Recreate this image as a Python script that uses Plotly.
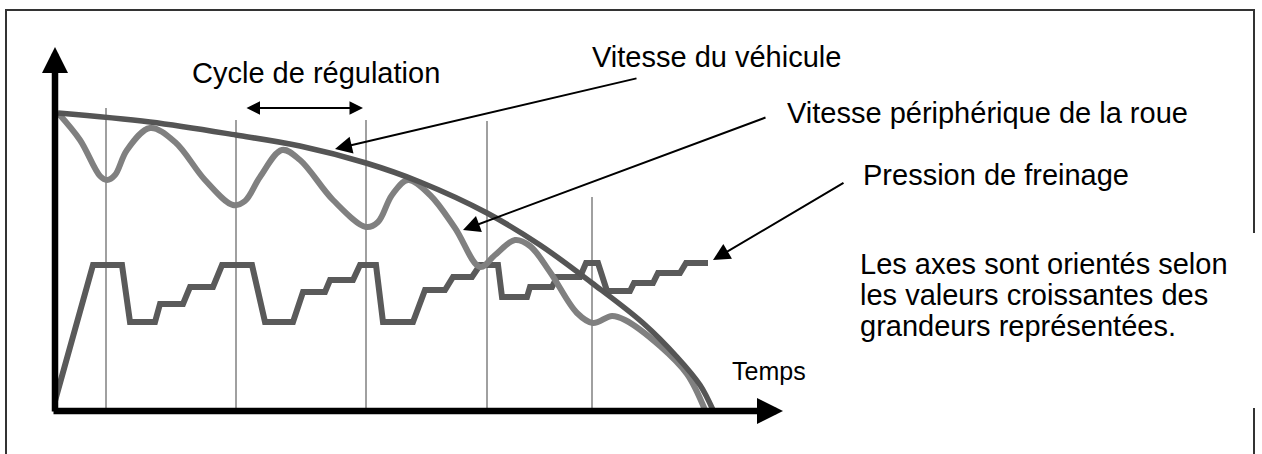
import plotly.graph_objects as go

# ---- data (chart units: time t from the origin, value v above the time axis) ----
vehicle_t = [3, 95, 181, 245, 311, 365, 432, 485, 537, 588, 622, 645, 658]
vehicle_v = [298, 289, 276, 265, 248, 229, 198, 166, 128, 88, 54, 26, 1]

wheel_t = [3, 25, 45, 52, 60, 72, 95, 120, 150, 178, 190, 205, 227, 245, 278, 311, 323, 337,
           353, 375, 400, 425, 440, 460, 475, 495, 522, 538, 557, 570, 605, 632, 650]
wheel_v = [298, 271, 235, 231, 236, 261, 283, 269, 231, 206, 210, 234, 261, 251, 211, 184, 189, 216,
           231, 216, 183, 144, 156, 171, 165, 139, 98, 88, 95, 91, 65, 37, 1]

pressure_t = [0, 38, 67, 75, 100, 105, 128, 135, 158, 167, 197, 210, 238, 248, 270, 275, 298, 305, 321,
              328, 358, 370, 390, 398, 417, 425, 443, 447, 472, 475, 497, 502, 525, 531, 543, 552, 575,
              579, 598, 603, 625, 631, 653]
pressure_v = [10, 146, 146, 89, 89, 107, 107, 124, 124, 146, 146, 89, 89, 119, 119, 131, 131, 146, 146,
              89, 89, 121, 121, 134, 134, 146, 146, 114, 114, 124, 124, 134, 134, 148, 148, 120, 120,
              128, 128, 138, 138, 148, 148]

cycle_t = [51, 181, 311, 432, 537]
cycle_top = [303, 291, 291, 290, 214]

label_vehicle = "Vitesse du véhicule"
label_wheel = "Vitesse périphérique de la roue"
label_pressure = "Pression de freinage"
label_cycle = "Cycle de régulation"
label_time = "Temps"
note_lines = ["Les axes sont orientés selon",
              "les valeurs croissantes des",
              "grandeurs représentées."]

# ---- styles ----
FONT = "Liberation Sans, Arial, sans-serif"
C_VEH = "#555555"
C_WHEEL = "#808080"
C_PRESS = "#5a5a5a"
C_CYCLE = "#a0a0a0"

fig = go.Figure()

# regulation cycle markers
for t, top in zip(cycle_t, cycle_top):
    fig.add_trace(go.Scatter(x=[t, t], y=[0, top], mode="lines",
                             line=dict(color=C_CYCLE, width=2), hoverinfo="skip"))

fig.add_trace(go.Scatter(x=pressure_t, y=pressure_v, mode="lines",
                         line=dict(color=C_PRESS, width=6), hoverinfo="skip"))
fig.add_trace(go.Scatter(x=wheel_t, y=wheel_v, mode="lines",
                         line=dict(color=C_WHEEL, width=6, shape="spline", smoothing=1.0),
                         hoverinfo="skip"))
fig.add_trace(go.Scatter(x=vehicle_t, y=vehicle_v, mode="lines",
                         line=dict(color=C_VEH, width=5.5, shape="spline", smoothing=1.0),
                         hoverinfo="skip"))

ann = []

def arrow(x, y, ax, ay, width, size, both=False):
    d = dict(x=x, y=y, ax=ax, ay=ay, xref="x", yref="y", axref="x", ayref="y",
             text="", showarrow=True, arrowhead=2, arrowsize=size, arrowwidth=width,
             arrowcolor="black", standoff=0, startstandoff=0)
    if both:
        d.update(arrowside="end+start", startarrowhead=2, startarrowsize=size)
    ann.append(d)

# axes with arrows
arrow(0, 364, 0, -2, 6.5, 0.8)
arrow(728, 0, -3, 0, 6.5, 0.8)

# label arrows
arrow(280, 262, 583, 333, 2, 1.7)
arrow(408, 181, 712, 294, 2, 1.7)
arrow(658, 151, 790, 229, 2, 1.7)
arrow(308, 303, 190, 303, 2, 1.35, both=True)

def text(s, x, y, size=29):
    ann.append(dict(x=x, y=y, xref="x", yref="y", text=s, showarrow=False,
                    xanchor="left", yanchor="middle",
                    font=dict(family=FONT, size=size, color="black")))

text(label_cycle, 135, 338)
text(label_vehicle, 535, 354)
text(label_wheel, 730, 298)
text(label_pressure, 806, 236)
for i, line in enumerate(note_lines):
    text(line, 803, 147 - 31 * i)
text(label_time, 675, 40, size=25)

# frame
frame = dict(color="#333333", width=2)
shapes = [
    dict(type="line", xref="x", yref="y", x0=-49, y0=401, x1=-49, y1=-60, line=frame),
    dict(type="line", xref="x", yref="y", x0=-50, y0=401, x1=1200, y1=401, line=frame),
    dict(type="line", xref="x", yref="y", x0=1199, y0=402, x1=1199, y1=178, line=frame),
    dict(type="line", xref="x", yref="y", x0=1199, y0=3, x1=1199, y1=-60, line=frame),
]

fig.update_layout(
    width=1262, height=454,
    margin=dict(l=0, r=0, t=0, b=0),
    paper_bgcolor="white", plot_bgcolor="white",
    showlegend=False,
    xaxis=dict(range=[-55, 1207], visible=False, fixedrange=True),
    yaxis=dict(range=[-43, 411], visible=False, fixedrange=True),
    annotations=ann,
    shapes=shapes,
)

fig.write_html("out.html", config={"displayModeBar": False},
               post_script="document.body.style.margin='0';document.body.style.overflow='hidden';")
